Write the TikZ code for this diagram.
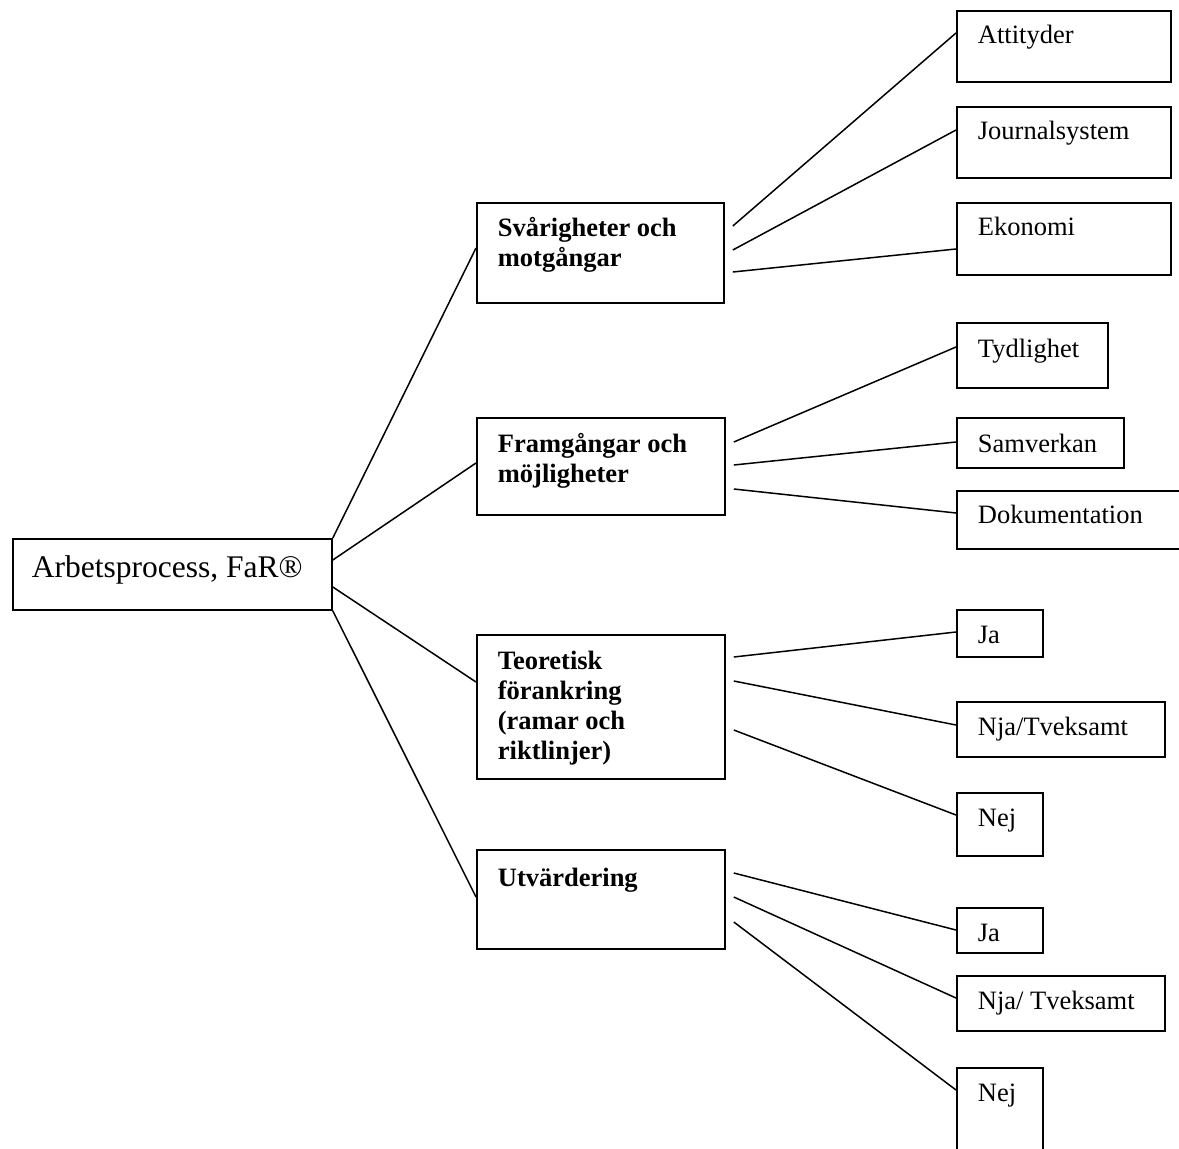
\documentclass[tikz,border=0pt]{standalone}
\usepackage{fontspec}
\setmainfont{Liberation Serif}
\usetikzlibrary{calc}
\newcommand\bxt[4]{\parbox[c][#1pt][t]{#2pt}{\raggedright\leftskip=21pt\rule{0pt}{#3pt}#4}}
\tikzset{
  bx/.style={draw, line width=1.8pt, inner sep=0pt, anchor=north west,
    font=\fontsize{26.5}{30}\selectfont},
  ln/.style={line width=1.5pt}
}
\begin{document}
\begin{tikzpicture}[x=1pt,y=-1pt]
\clip (0,0) rectangle (1179,1149);
\fill[white] (0,0) rectangle (1179,1149);
% root
\node[bx, font=\fontsize{31.5}{36}\selectfont] (root) at (12,538)
  {\parbox[c][71pt][t]{319pt}{\raggedright\leftskip=19pt\rule{0pt}{39pt}Arbetsprocess, FaR®}};
% middle level
\node[bx] (sv) at (476,202) {\bxt{100}{247}{34}{\textbf{Svårigheter och}\\\textbf{motgångar}}};
\node[bx] (fr) at (476,417) {\bxt{97}{248}{35}{\textbf{Framgångar och}\\\textbf{möjligheter}}};
\node[bx] (te) at (476,634) {\bxt{144}{248}{35}{\textbf{Teoretisk}\\\textbf{förankring}\\\textbf{(ramar och}\\\textbf{riktlinjer)}}};
\node[bx] (ut) at (476,849) {\bxt{99}{248}{37}{\textbf{Utvärdering}}};
% leaves
\node[bx] (at) at (956,10) {\bxt{71}{214}{33}{Attityder}};
\node[bx] (jo) at (956,106) {\bxt{71}{214}{33}{Journalsystem}};
\node[bx] (ek) at (956,202) {\bxt{72}{214}{33}{Ekonomi}};
\node[bx] (ty) at (956,322) {\bxt{65}{151}{35}{Tydlighet}};
\node[bx] (sa) at (956,417) {\bxt{50}{167}{35}{Samverkan}};
\node[bx] (do) at (956,490) {\bxt{58}{240}{33}{Dokumentation}};
\node[bx] (ja1) at (956,609) {\bxt{47}{86}{34}{Ja}};
\node[bx] (nja1) at (956,701) {\bxt{55}{208}{34}{Nja/Tveksamt}};
\node[bx] (nej1) at (956,792) {\bxt{63}{86}{34}{Nej}};
\node[bx] (ja2) at (956,907) {\bxt{45}{86}{34}{Ja}};
\node[bx] (nja2) at (956,975) {\bxt{55}{208}{34}{Nja/ Tveksamt}};
\node[bx] (nej2) at (956,1067) {\bxt{100}{86}{34}{Nej}};
% connectors root -> middle
\draw[ln] (root.north east) -- ($(sv.north west)+(0,46)$);
\draw[ln] ($(root.north east)+(0,22)$) -- ($(fr.north west)+(0,46)$);
\draw[ln] ($(root.north east)+(0,49)$) -- ($(te.north west)+(0,48)$);
\draw[ln] (root.south east) -- ($(ut.north west)+(0,48)$);
% sv -> leaves
\draw[ln] ($(sv.north east)+(8,24)$) -- ($(at.north west)+(0,23)$);
\draw[ln] ($(sv.north east)+(8,48)$) -- ($(jo.north west)+(0,24)$);
\draw[ln] ($(sv.north east)+(8,70)$) -- ($(ek.north west)+(0,47)$);
% fr -> leaves
\draw[ln] ($(fr.north east)+(8,25)$) -- ($(ty.north west)+(0,25)$);
\draw[ln] ($(fr.north east)+(8,48)$) -- ($(sa.north west)+(0,25)$);
\draw[ln] ($(fr.north east)+(8,72)$) -- ($(do.north west)+(0,23)$);
% te -> leaves
\draw[ln] ($(te.north east)+(8,23)$) -- ($(ja1.north west)+(0,23)$);
\draw[ln] ($(te.north east)+(8,47)$) -- ($(nja1.north west)+(0,24)$);
\draw[ln] ($(te.north east)+(8,96)$) -- ($(nej1.north west)+(0,23)$);
% ut -> leaves
\draw[ln] ($(ut.north east)+(8,24)$) -- ($(ja2.north west)+(0,23)$);
\draw[ln] ($(ut.north east)+(8,48)$) -- ($(nja2.north west)+(0,23)$);
\draw[ln] ($(ut.north east)+(8,73)$) -- ($(nej2.north west)+(0,23)$);
\end{tikzpicture}
\end{document}
